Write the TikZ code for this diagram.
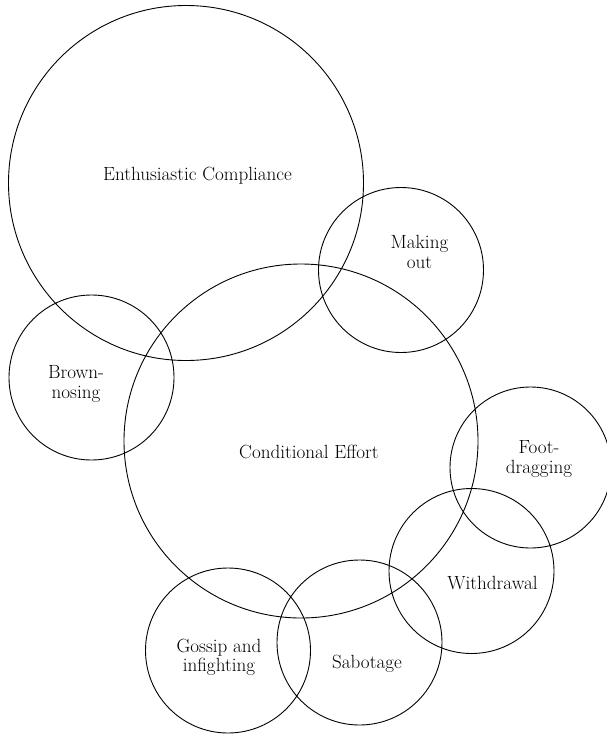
\documentclass[tikz,border=0pt]{standalone}
\begin{document}
\begin{tikzpicture}[x=1pt, y=-1pt,
    ring/.style={line width=0.9pt},
    tag/.style={font=\fontsize{19.1}{19.5}\selectfont, align=center, inner sep=0pt}]

    \def\bigr{177.5pt}
    \def\smallr{82.5pt}

    \useasboundingbox (0,0) rectangle (607,736);

    \draw[ring] (186,183)     circle (\bigr)
                (301,441)     circle (177pt)
                (401,270)     circle (\smallr)
                (91.5,377.5)  circle (\smallr)
                (530.5,467.5) circle (80.5pt)
                (471.5,571)   circle (\smallr)
                (359.5,642.5) circle (\smallr)
                (228,650.5)   circle (\smallr);

    \node[tag] (enthusiastic) at (197.5,176) {Enthusiastic Compliance};
    \node[tag] (conditional)  at (309,452)   {Conditional Effort};
    \node[tag] (makingout)    at (419.5,252) {Making\\out};
    \node[tag] (brownnosing)  at (76,384)    {Brown-\\nosing};
    \node[tag] (footdragging) at (539,459)   {Foot-\\dragging};
    \node[tag] (withdrawal)   at (492.5,583.5) {Withdrawal};
    \node[tag] (sabotage)     at (367,664)   {Sabotage};
    \node[tag] (gossip)       at (219,657.5) {Gossip and\\infighting};
\end{tikzpicture}
\end{document}
